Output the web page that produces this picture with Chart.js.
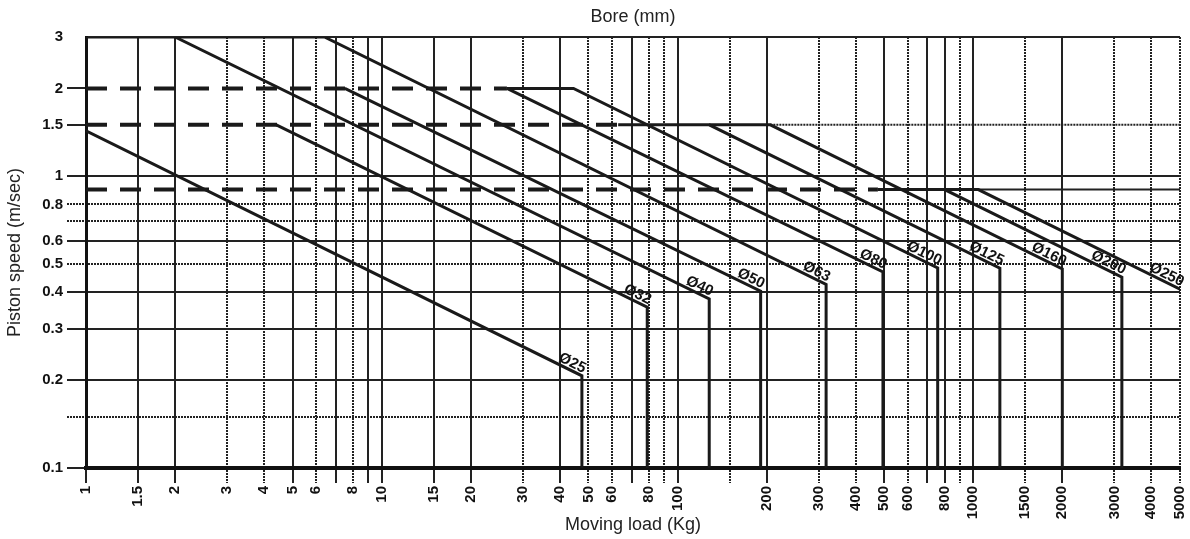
<!DOCTYPE html>
<html>
<head>
<meta charset="utf-8">
<script src="https://cdn.jsdelivr.net/npm/chart.js@4/dist/chart.umd.min.js"></script>
<style>
html, body { margin: 0; padding: 0; background: #fff; }
</style>
</head>
<body>
<canvas id="speedChart" width="1190" height="539"></canvas>
<script>
// grid ticks of the log-log chart
const xTicks = [1, 1.5, 2, 3, 4, 5, 6, 7, 8, 9, 10, 15, 20, 30, 40, 50, 60, 70, 80, 90, 100, 150, 200, 300, 400, 500, 600, 700, 800, 900, 1000, 1500, 2000, 3000, 4000, 5000];
const xTickLabels = ['1', '1.5', '2', '3', '4', '5', '6', '', '8', '', '10', '15', '20', '30', '40', '50', '60', '', '80', '', '100', '', '200', '300', '400', '500', '600', '', '800', '', '1000', '1500', '2000', '3000', '4000', '5000'];
const xDotted = [3, 4, 6, 8, 30, 50, 60, 80, 90, 150, 300, 400, 600, 900, 1500, 3000, 4000, 5000];

const yTicks = [0.1, 0.15, 0.2, 0.3, 0.4, 0.5, 0.6, 0.7, 0.8, 1, 1.5, 2, 3];
const yTickLabels = ['0.1', '', '0.2', '0.3', '0.4', '0.5', '0.6', '', '0.8', '1', '1.5', '2', '3'];
const yDotted = [0.15, 0.5, 0.7, 0.8];
const yNoGrid = [1.5, 2];

// bore curves: moving load (kg) / piston speed (m/s)
const boreNames = ['Ø25', 'Ø32', 'Ø40', 'Ø50', 'Ø63', 'Ø80', 'Ø100', 'Ø125', 'Ø160', 'Ø200', 'Ø250'];
const load25 = [1, 47.5, 47.5];
const speed25 = [1.43, 0.207, 0.1];
const load32 = [4.4, 79, 79];
const speed32 = [1.5, 0.356, 0.1];
const load40 = [2, 128, 128];
const speed40 = [3, 0.38, 0.1];
const load50 = [7.5, 191, 191];
const speed50 = [2, 0.404, 0.1];
const load63 = [1, 6.4, 318, 318];
const speed63 = [3, 3, 0.426, 0.1];
const load80 = [26.5, 495, 495];
const speed80 = [2, 0.47, 0.1];
const load100 = [26.5, 44.5, 758, 758];
const speed100 = [2, 2, 0.485, 0.1];
const load125 = [63, 128, 1230, 1230];
const speed125 = [1.5, 1.5, 0.484, 0.1];
const load160 = [128, 206, 2000, 2000];
const speed160 = [1.5, 1.5, 0.481, 0.1];
const load200 = [476, 800, 3180, 3180];
const speed200 = [0.9, 0.9, 0.451, 0.1];
const load250 = [800, 1040, 5000];
const speed250 = [0.9, 0.9, 0.41];

// dashed speed limits and their thin continuations
const dash2Load = [1, 26.5];
const dash2Speed = [2, 2];
const dash15Load = [1, 63];
const dash15Speed = [1.5, 1.5];
const dash09Load = [1, 476];
const dash09Speed = [0.9, 0.9];
const tail15Load = [206, 5000];
const tail15Speed = [1.5, 1.5];
const tail09Load = [1040, 5000];
const tail09Speed = [0.9, 0.9];

const boreLoads = [load25, load32, load40, load50, load63, load80, load100, load125, load160, load200, load250];
const boreSpeeds = [speed25, speed32, speed40, speed50, speed63, speed80, speed100, speed125, speed160, speed200, speed250];

const INK = '#1a1a1a';
const FONT = '"Liberation Sans", Arial, sans-serif';

function pts(xs, ys) {
    return xs.map((x, i) => ({ x: x, y: ys[i] }));
}

const datasets = boreNames.map((name, i) => ({
    label: name,
    data: pts(boreLoads[i], boreSpeeds[i]),
    borderColor: INK,
    borderWidth: 3,
    pointRadius: 0
}));

datasets.push(
    { label: 'lim2', data: pts(dash2Load, dash2Speed), borderColor: INK, borderWidth: 4, borderDash: [21, 13], pointRadius: 0 },
    { label: 'lim15', data: pts(dash15Load, dash15Speed), borderColor: INK, borderWidth: 4, borderDash: [21, 13], pointRadius: 0 },
    { label: 'lim09', data: pts(dash09Load, dash09Speed), borderColor: INK, borderWidth: 4, borderDash: [21, 13], pointRadius: 0 },
    { label: 'tail15', data: pts(tail15Load, tail15Speed), borderColor: '#222', borderWidth: 2, borderDash: [2, 1], pointRadius: 0 },
    { label: 'tail09', data: pts(tail09Load, tail09Speed), borderColor: '#222', borderWidth: 2, pointRadius: 0 }
);

// bore names written along the end of each curve
const boreLabels = {
    id: 'boreLabels',
    afterDatasetsDraw(chart) {
        const ctx = chart.ctx;
        ctx.save();
        ctx.font = 'bold 15px ' + FONT;
        ctx.fillStyle = '#111';
        ctx.textAlign = 'right';
        ctx.textBaseline = 'alphabetic';
        boreNames.forEach((name, i) => {
            const p = chart.getDatasetMeta(i).data;
            const sp = boreSpeeds[i];
            const k = sp[sp.length - 1] === 0.1 ? p.length - 2 : p.length - 1;
            const a = p[k - 1], b = p[k];
            const ang = Math.atan2(b.y - a.y, b.x - a.x);
            ctx.save();
            ctx.translate(b.x, b.y);
            ctx.rotate(ang);
            ctx.fillText(name, 0, -3);
            ctx.restore();
        });
        ctx.restore();
    }
};

const isTick = (ctx, list) => ctx.tick && list.includes(ctx.tick.value);

new Chart(document.getElementById('speedChart'), {
    type: 'line',
    data: { datasets: datasets },
    options: {
        responsive: false,
        animation: false,
        layout: { padding: { left: 0, right: 10, top: 0, bottom: 0 } },
        plugins: {
            legend: { display: false },
            tooltip: { enabled: false },
            title: {
                display: true,
                fullSize: false,
                text: 'Bore (mm)',
                color: '#222',
                font: { family: FONT, size: 18, weight: 'normal' },
                padding: { top: 6, bottom: 9.4 }
            }
        },
        scales: {
            x: {
                type: 'logarithmic',
                min: 1,
                max: 5000,
                afterBuildTicks: (axis) => { axis.ticks = xTicks.map(v => ({ value: v })); },
                afterFit: (axis) => {
                    axis.height = 71;
                    axis.paddingLeft = 0;
                    axis.paddingRight = 0;
                },
                ticks: {
                    autoSkip: false,
                    minRotation: 90,
                    maxRotation: 90,
                    padding: 3,
                    color: '#111',
                    font: { family: FONT, size: 15, weight: 'bold' },
                    callback: (v) => xTickLabels[xTicks.indexOf(v)]
                },
                grid: {
                    color: '#222',
                    lineWidth: 2,
                    tickLength: 15,
                    tickColor: '#222',
                    tickBorderDash: (ctx) => isTick(ctx, xDotted) ? [2, 1] : []
                },
                border: {
                    display: true,
                    width: 4,
                    color: '#111',
                    dash: (ctx) => isTick(ctx, xDotted) ? [2, 1] : []
                },
                title: {
                    display: true,
                    text: 'Moving load (Kg)',
                    color: '#222',
                    font: { family: FONT, size: 18, weight: 'normal' },
                    padding: { top: 0, bottom: 3 }
                }
            },
            y: {
                type: 'logarithmic',
                min: 0.1,
                max: 3,
                afterBuildTicks: (axis) => { axis.ticks = yTicks.map(v => ({ value: v })); },
                afterFit: (axis) => { axis.width = 86; },
                ticks: {
                    autoSkip: false,
                    padding: 4,
                    color: '#111',
                    font: { family: FONT, size: 15, weight: 'bold' },
                    callback: (v) => yTickLabels[yTicks.indexOf(v)]
                },
                grid: {
                    color: (ctx) => isTick(ctx, yNoGrid) ? 'rgba(0,0,0,0)' : '#222',
                    lineWidth: 2,
                    tickLength: 19,
                    tickColor: (ctx) => (ctx.tick && ctx.tick.value === 3) ? 'rgba(0,0,0,0)' : '#222',
                    tickBorderDash: (ctx) => isTick(ctx, yDotted) ? [2, 1] : []
                },
                border: {
                    display: true,
                    width: 3,
                    color: '#111',
                    dash: (ctx) => isTick(ctx, yDotted) ? [2, 1] : []
                },
                title: {
                    display: true,
                    text: 'Piston speed (m/sec)',
                    color: '#222',
                    font: { family: FONT, size: 18, weight: 'normal' },
                    padding: { top: 4, bottom: 0 }
                }
            }
        }
    },
    plugins: [boreLabels]
});
</script>
</body>
</html>
